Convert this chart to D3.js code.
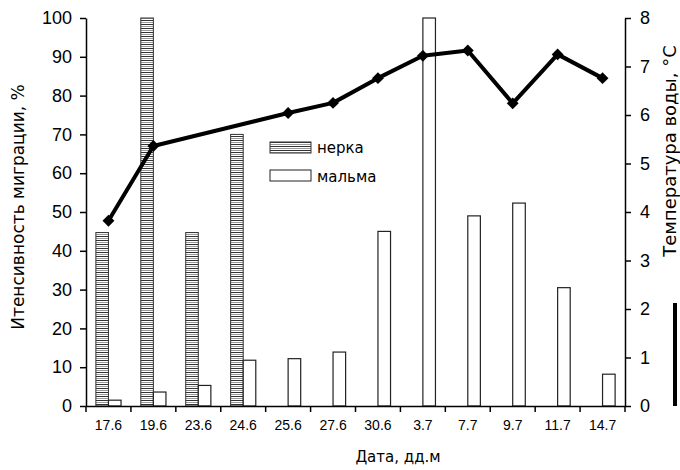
<!DOCTYPE html>
<html>
<head>
<meta charset="utf-8">
<script src="https://cdn.jsdelivr.net/npm/d3@7"></script>
<style>
  body { margin: 0; background: #fff; }
  svg { font-family: "DejaVu Sans", sans-serif; }
  .axis path, .axis line { stroke: #000; stroke-width: 1.5; }
</style>
</head>
<body>
<svg id="chart" width="680" height="470"></svg>
<script>
var dates = ['17.6', '19.6', '23.6', '24.6', '25.6', '27.6', '30.6', '3.7', '7.7', '9.7', '11.7', '14.7']
var nerka = [44.7, 100, 44.7, 70, 0, 0, 0, 0, 0, 0, 0, 0]
var malma = [1.5, 3.6, 5.3, 11.8, 12.2, 13.9, 45, 100, 49, 52.3, 30.5, 8.2]
var temp = [3.82, 5.36, null, null, 6.04, 6.25, 6.76, 7.22, 7.33, 6.24, 7.25, 6.76]
var leftTicks = [0, 10, 20, 30, 40, 50, 60, 70, 80, 90, 100]
var rightTicks = [0, 1, 2, 3, 4, 5, 6, 7, 8]

var cfg = {
  left: 86,
  right: 625,
  top: 18,
  bottom: 406
}

var svg = d3.select('#chart')

var defs = svg.append('defs')
var pat = defs.append('pattern')
  .attr('id', 'hatch')
  .attr('patternUnits', 'userSpaceOnUse')
  .attr('width', 8)
  .attr('height', 4)
pat.append('rect').attr('width', 8).attr('height', 4).attr('fill', '#fff')
pat.append('line')
  .attr('x1', 0).attr('x2', 8).attr('y1', 0.5).attr('y2', 0.5)
  .attr('stroke', '#333').attr('stroke-width', 1)
pat.append('line')
  .attr('x1', 0).attr('x2', 8).attr('y1', 2.5).attr('y2', 2.5)
  .attr('stroke', '#999').attr('stroke-width', 1)

var x = d3.scaleBand().domain(dates).range([cfg.left, cfg.right])
var bw = x.bandwidth()
var groupW = bw * 0.56
var x1 = d3.scaleBand().domain(['nerka', 'malma'])
  .range([(bw - groupW) / 2, (bw + groupW) / 2])

var yL = d3.scaleLinear().domain([0, 100]).range([cfg.bottom, cfg.top])
var yR = d3.scaleLinear().domain([0, 8]).range([cfg.bottom, cfg.top])

var rows = dates.map(function(d, i) {
  return {date: d, nerka: nerka[i], malma: malma[i], temp: temp[i]}
})

// bars
var barsG = svg.append('g')
barsG.selectAll('rect.nerka')
  .data(rows.filter(function(d) { return d.nerka > 0 }))
  .enter().append('rect')
  .attr('class', 'nerka')
  .attr('x', function(d) { return x(d.date) + x1('nerka') })
  .attr('width', x1.bandwidth())
  .attr('y', function(d) { return yL(d.nerka) })
  .attr('height', function(d) { return yL(0) - yL(d.nerka) })
  .attr('fill', 'url(#hatch)')
  .attr('stroke', '#333')
  .attr('stroke-width', 1)

barsG.selectAll('rect.malma')
  .data(rows)
  .enter().append('rect')
  .attr('class', 'malma')
  .attr('x', function(d) { return x(d.date) + x1('malma') })
  .attr('width', x1.bandwidth())
  .attr('y', function(d) { return yL(d.malma) })
  .attr('height', function(d) { return yL(0) - yL(d.malma) })
  .attr('fill', '#fff')
  .attr('stroke', '#222')
  .attr('stroke-width', 1.2)

// axes
var leftAxis = d3.axisLeft(yL).tickValues(leftTicks).tickSize(6).tickPadding(8).tickSizeOuter(0)
svg.append('g')
  .attr('class', 'axis')
  .attr('transform', 'translate(' + cfg.left + ',0)')
  .call(leftAxis)
  .call(function(g) { g.selectAll('text').attr('font-size', 18).attr('fill', '#000') })

var rightAxis = d3.axisRight(yR).tickValues(rightTicks).tickSize(6).tickPadding(9).tickSizeOuter(0)
svg.append('g')
  .attr('class', 'axis')
  .attr('transform', 'translate(' + cfg.right + ',0)')
  .call(rightAxis)
  .call(function(g) { g.selectAll('text').attr('font-size', 18).attr('fill', '#000') })

var bottomAxis = d3.axisBottom(x).tickSize(0).tickPadding(14).tickSizeOuter(0)
var bx = svg.append('g')
  .attr('class', 'axis')
  .attr('transform', 'translate(0,' + cfg.bottom + ')')
  .call(bottomAxis)
bx.selectAll('text').attr('font-size', 14).attr('fill', '#000')
bx.selectAll('line.bound')
  .data(dates.concat(['end']))
  .enter().append('line')
  .attr('class', 'bound')
  .attr('x1', function(d) { return d === 'end' ? cfg.right : x(d) })
  .attr('x2', function(d) { return d === 'end' ? cfg.right : x(d) })
  .attr('y1', 0)
  .attr('y2', 6)

// temperature line (gaps connected, as in the original)
var tempPts = rows.filter(function(d) { return d.temp != null })
var line = d3.line()
  .x(function(d) { return x(d.date) + bw / 2 })
  .y(function(d) { return yR(d.temp) })

svg.append('path')
  .attr('d', line(tempPts))
  .attr('fill', 'none')
  .attr('stroke', '#000')
  .attr('stroke-width', 4)
  .attr('stroke-linejoin', 'round')

svg.selectAll('path.marker')
  .data(tempPts)
  .enter().append('path')
  .attr('class', 'marker')
  .attr('d', d3.symbol().type(d3.symbolDiamond2).size(90))
  .attr('transform', function(d) { return 'translate(' + (x(d.date) + bw / 2) + ',' + yR(d.temp) + ')' })
  .attr('fill', '#000')

// legend
var legend = svg.append('g').attr('transform', 'translate(270,142)')
legend.append('rect')
  .attr('x', 0).attr('y', 0).attr('width', 41).attr('height', 11)
  .attr('fill', 'url(#hatch)').attr('stroke', '#333')
legend.append('text').attr('x', 47).attr('y', 11).attr('font-size', 15).text('нерка')
legend.append('rect')
  .attr('x', 0).attr('y', 28).attr('width', 41).attr('height', 11)
  .attr('fill', '#fff').attr('stroke', '#222')
legend.append('text').attr('x', 47).attr('y', 40).attr('font-size', 15).text('мальма')

svg.append('line')
  .attr('x1', 675).attr('x2', 675).attr('y1', 303).attr('y2', 406)
  .attr('stroke', '#000').attr('stroke-width', 4)

// axis titles
svg.append('text')
  .attr('transform', 'translate(24,207) rotate(-90)')
  .attr('text-anchor', 'middle')
  .attr('font-size', 17)
  .text('Итенсивность миграции, %')

svg.append('text')
  .attr('transform', 'translate(676,151) rotate(-90)')
  .attr('text-anchor', 'middle')
  .attr('font-size', 18)
  .text('Температура воды, °C')

svg.append('text')
  .attr('x', 398)
  .attr('y', 462)
  .attr('text-anchor', 'middle')
  .attr('font-size', 15)
  .text('Дата, дд.м')
</script>
</body>
</html>
